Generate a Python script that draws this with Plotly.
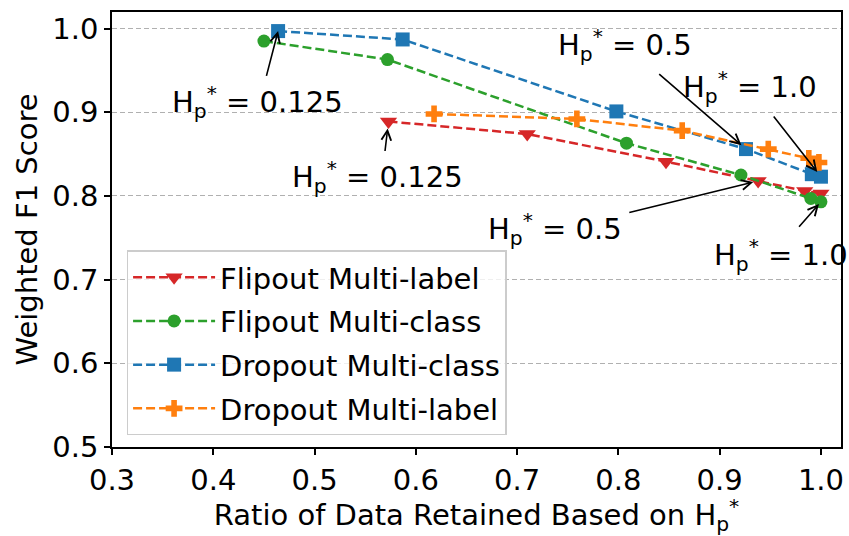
import plotly.graph_objects as go

# ---- data ----
flipout_ml_x = [0.573, 0.710, 0.847, 0.938, 0.984, 1.000]
flipout_ml_y = [0.889, 0.874, 0.841, 0.818, 0.806, 0.803]

flipout_mc_x = [0.450, 0.572, 0.808, 0.921, 0.990, 1.000]
flipout_mc_y = [0.985, 0.963, 0.863, 0.825, 0.797, 0.793]

dropout_mc_x = [0.464, 0.587, 0.798, 0.926, 0.991, 1.000]
dropout_mc_y = [0.997, 0.987, 0.901, 0.856, 0.826, 0.823]

dropout_ml_x = [0.618, 0.759, 0.863, 0.948, 0.988, 0.998]
dropout_ml_y = [0.898, 0.892, 0.878, 0.856, 0.845, 0.840]

x_ticks = [0.3, 0.4, 0.5, 0.6, 0.7, 0.8, 0.9, 1.0]
y_ticks = [0.5, 0.6, 0.7, 0.8, 0.9, 1.0]

FONT = "DejaVu Sans"
FS = 29
DASH = "9px,4px"

series = [
    ("Flipout Multi-label", flipout_ml_x, flipout_ml_y, "#d62728", "triangle-down", 15),
    ("Flipout Multi-class", flipout_mc_x, flipout_mc_y, "#2ca02c", "circle", 13),
    ("Dropout Multi-class", dropout_mc_x, dropout_mc_y, "#1f77b4", "square", 14),
    ("Dropout Multi-label", dropout_ml_x, dropout_ml_y, "#ff7f0e", "cross", 14),
]

fig = go.Figure()
for i, (name, xs, ys, col, sym, sz) in enumerate(series):
    fig.add_trace(go.Scatter(
        x=xs, y=ys, name=name, mode="lines+markers",
        line=dict(color=col, width=2.5, dash=DASH),
        marker=dict(color=col, symbol=sym, size=sz, line=dict(width=0)),
        legendgroup=f"g{i}",
    ))

HP = "H<sub>p</sub><sup>*</sup>"

# text label positions (data coords), arrow tails, and target points
labels = [
    (HP + " = 0.125", 0.4436, 0.912, 0.4521, 0.9417, dropout_mc_x[0], dropout_mc_y[0], 0),
    (HP + " = 0.125", 0.5625, 0.823, 0.5694, 0.8519, flipout_ml_x[0], flipout_ml_y[0], 7),
    (HP + " = 0.5", 0.8064, 0.980, 0.8388, 0.9471, dropout_mc_x[3], dropout_mc_y[3], 6),
    (HP + " = 1.0", 0.9303, 0.930, 0.9522, 0.8968, dropout_mc_x[5], dropout_mc_y[5], 6),
    (HP + " = 0.5", 0.7376, 0.761, 0.8093, 0.7798, flipout_ml_x[3], flipout_ml_y[3], 5),
    (HP + " = 1.0", 0.9608, 0.729, 0.9771, 0.7614, flipout_mc_x[5], flipout_mc_y[5], 3),
]

annotations = []
for text, tx, ty, axx, ayy, hx, hy, so in labels:
    annotations.append(dict(
        x=tx, y=ty, xref="x", yref="y", text=text, showarrow=False,
        font=dict(family=FONT, size=FS, color="black"),
        xanchor="center", yanchor="middle",
    ))
    annotations.append(dict(
        x=hx, y=hy, xref="x", yref="y", ax=axx, ay=ayy, axref="x", ayref="y",
        text="", showarrow=True, arrowhead=5, arrowsize=1.2, arrowwidth=1.6,
        arrowcolor="black", standoff=so,
    ))

fig.update_layout(
    width=849, height=536,
    margin=dict(l=112, r=5, t=12, b=89),
    paper_bgcolor="white", plot_bgcolor="white",
    font=dict(family=FONT, size=FS, color="black"),
    showlegend=True,
    legend=dict(
        x=0.02, y=0.452, xanchor="left", yanchor="top",
        bgcolor="rgba(255,255,255,0.8)", bordercolor="#cccccc", borderwidth=1.5,
        font=dict(family=FONT, size=FS), traceorder="grouped", tracegroupgap=3,
        itemwidth=82,
    ),
    annotations=annotations,
    xaxis=dict(
        range=[0.3, 1.0198], tickmode="array", tickvals=x_ticks,
        ticktext=[f"{v:.1f}" for v in x_ticks],
        showgrid=False, zeroline=False,
        showline=True, linecolor="black", linewidth=1.6, mirror=True,
        ticks="outside", ticklen=6, tickwidth=1.6, tickcolor="black",
        title=dict(text="Ratio of Data Retained Based on " + HP,
                   font=dict(family=FONT, size=FS), standoff=11),
    ),
    yaxis=dict(
        range=[0.5, 1.0198], tickmode="array", tickvals=y_ticks,
        ticktext=[f"{v:.1f}" for v in y_ticks],
        showgrid=True, gridcolor="#b0b0b0", griddash="5px,3px", gridwidth=1,
        zeroline=False,
        showline=True, linecolor="black", linewidth=1.6, mirror=True,
        ticks="outside", ticklen=6, tickwidth=1.6, tickcolor="black",
        title=dict(text="Weighted F1 Score", font=dict(family=FONT, size=FS), standoff=6),
    ),
)

fig.write_html("out.html")
